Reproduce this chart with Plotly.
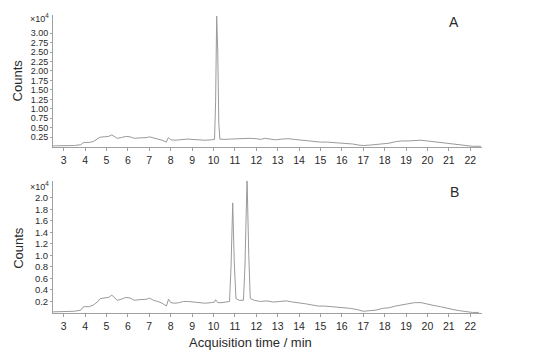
import plotly.graph_objects as go

# Trace A (counts x10^4)
t_a = [2.5, 3.0, 3.5, 3.8, 3.9, 4.0, 4.2, 4.4, 4.6, 4.7, 4.9, 5.1, 5.25, 5.4, 5.5, 5.7, 5.9, 6.1, 6.3, 6.5,
       6.7, 6.9, 7.0, 7.2, 7.4, 7.6, 7.8, 7.85, 7.9, 8.0, 8.2, 8.4, 8.6, 8.8, 9.0, 9.3, 9.6, 9.9, 10.05, 10.1,
       10.15, 10.2, 10.25, 10.3, 10.5, 10.8, 11.1, 11.4, 11.7, 12.0, 12.2, 12.4, 12.6, 12.9, 13.2, 13.5, 13.8,
       14.1, 14.4, 14.7, 15.0, 15.3, 15.6, 15.9, 16.2, 16.5, 16.8, 17.0, 17.3, 17.6, 17.9, 18.2, 18.5, 18.8,
       19.1, 19.4, 19.7, 20.0, 20.3, 20.6, 20.9, 21.2, 21.5, 21.8, 22.1, 22.5]
counts_a = [0.02, 0.02, 0.03, 0.05, 0.10, 0.11, 0.11, 0.14, 0.20, 0.25, 0.26, 0.27, 0.31, 0.25, 0.22, 0.24,
            0.27, 0.26, 0.22, 0.23, 0.23, 0.24, 0.26, 0.22, 0.20, 0.17, 0.12, 0.20, 0.24, 0.18, 0.17, 0.18,
            0.20, 0.20, 0.19, 0.18, 0.17, 0.18, 0.19, 1.20, 3.45, 2.50, 0.60, 0.20, 0.19, 0.20, 0.21, 0.22,
            0.22, 0.21, 0.19, 0.22, 0.21, 0.18, 0.20, 0.21, 0.19, 0.17, 0.16, 0.13, 0.12, 0.12, 0.11, 0.09,
            0.09, 0.07, 0.04, 0.03, 0.04, 0.05, 0.08, 0.09, 0.13, 0.15, 0.15, 0.17, 0.17, 0.15, 0.13, 0.11,
            0.08, 0.06, 0.04, 0.02, 0.01, 0.01]

# Trace B (counts x10^4)
t_b = [2.5, 3.0, 3.5, 3.8, 3.9, 4.0, 4.2, 4.4, 4.6, 4.7, 4.9, 5.1, 5.25, 5.4, 5.5, 5.7, 5.9, 6.1, 6.3, 6.5,
       6.7, 6.9, 7.0, 7.2, 7.4, 7.6, 7.8, 7.85, 7.9, 8.0, 8.2, 8.4, 8.6, 8.8, 9.0, 9.3, 9.6, 9.9, 10.05, 10.1,
       10.2, 10.4, 10.6, 10.75, 10.82, 10.9, 10.97, 11.05, 11.2, 11.4, 11.47, 11.57, 11.65, 11.72, 11.9,
       12.2, 12.5, 12.8, 13.1, 13.4, 13.7, 14.0, 14.3, 14.6, 14.9, 15.2, 15.5, 15.8, 16.1, 16.4, 16.7, 17.0,
       17.3, 17.6, 17.9, 18.2, 18.5, 18.8, 19.1, 19.4, 19.7, 20.0, 20.3, 20.6, 20.9, 21.2, 21.5, 21.8, 22.1,
       22.4]
counts_b = [0.02, 0.02, 0.03, 0.05, 0.10, 0.11, 0.11, 0.14, 0.20, 0.25, 0.26, 0.27, 0.31, 0.25, 0.22, 0.24,
            0.27, 0.26, 0.22, 0.23, 0.23, 0.24, 0.26, 0.22, 0.20, 0.17, 0.12, 0.20, 0.24, 0.18, 0.17, 0.18,
            0.20, 0.20, 0.19, 0.18, 0.17, 0.18, 0.19, 0.23, 0.18, 0.18, 0.19, 0.20, 0.80, 1.91, 0.90, 0.25,
            0.22, 0.22, 0.80, 2.33, 1.00, 0.25, 0.22, 0.20, 0.21, 0.19, 0.20, 0.21, 0.19, 0.18, 0.16, 0.14,
            0.12, 0.12, 0.11, 0.10, 0.10, 0.08, 0.06, 0.03, 0.04, 0.05, 0.08, 0.09, 0.12, 0.14, 0.16, 0.18,
            0.18, 0.15, 0.13, 0.11, 0.08, 0.06, 0.04, 0.02, 0.01, 0.01]

x_ticks = list(range(3, 23))
y_ticks_a = [0.25 * i for i in range(1, 13)]
y_ticks_b = [0.2 * i for i in range(1, 11)]

line_col = "#9a9a9a"
axis_col = "#a0a0a0"
text_col = "#2a2a2a"
font_fam = "Liberation Sans, Arial, sans-serif"

fig = go.Figure()
fig.add_trace(go.Scatter(x=t_a, y=counts_a, mode="lines", line=dict(color=line_col, width=1),
                         xaxis="x", yaxis="y", showlegend=False))
fig.add_trace(go.Scatter(x=t_b, y=counts_b, mode="lines", line=dict(color=line_col, width=1),
                         xaxis="x2", yaxis="y2", showlegend=False))

xcommon = dict(range=[2.5, 22.55], tickmode="array", tickvals=x_ticks, ticktext=[str(v) for v in x_ticks],
               showgrid=False, zeroline=False, showline=True, linecolor=axis_col, linewidth=1,
               ticks="outside", ticklen=3, tickcolor=axis_col, tickfont=dict(size=10.5, color=text_col),
               automargin=False)
ycommon = dict(showgrid=False, zeroline=False, showline=True, linecolor=axis_col, linewidth=1,
               ticks="outside", ticklen=2, tickcolor=axis_col, automargin=False)

fig.update_layout(
    width=541, height=354,
    margin=dict(l=53, r=59, t=15, b=41, autoexpand=False),
    paper_bgcolor="white", plot_bgcolor="white",
    font=dict(family=font_fam),
    xaxis=dict(xcommon, domain=[0, 1], anchor="y"),
    yaxis=dict(ycommon, domain=[0.557, 1.0], range=[-0.01, 3.48], tickvals=y_ticks_a,
               ticktext=[f"{v:.2f}" for v in y_ticks_a], anchor="x",
               tickfont=dict(size=9, color=text_col)),
    xaxis2=dict(xcommon, domain=[0, 1], anchor="y2"),
    yaxis2=dict(ycommon, domain=[0.0, 0.443], range=[0, 2.29], tickvals=y_ticks_b,
                ticktext=[f"{v:.1f}" for v in y_ticks_b], anchor="x2",
                tickfont=dict(size=9.5, color=text_col)),
    annotations=[
        dict(text="×10<sup>4</sup>", xref="paper", yref="paper", x=-0.005, y=0.99, xanchor="right",
             yanchor="middle", showarrow=False, font=dict(size=9, color=text_col)),
        dict(text="×10<sup>4</sup>", xref="paper", yref="paper", x=-0.005, y=0.427, xanchor="right",
             yanchor="middle", showarrow=False, font=dict(size=9, color=text_col)),
        dict(text="A", xref="paper", yref="paper", x=0.935, y=0.976, xanchor="center", yanchor="middle",
             showarrow=False, font=dict(size=14, color=text_col)),
        dict(text="B", xref="paper", yref="paper", x=0.935, y=0.406, xanchor="center", yanchor="middle",
             showarrow=False, font=dict(size=14, color=text_col)),
        dict(text="Counts", xref="paper", yref="paper", x=-0.082, y=0.78, xanchor="center", yanchor="middle",
             textangle=-90, showarrow=False, font=dict(size=13, color=text_col)),
        dict(text="Counts", xref="paper", yref="paper", x=-0.082, y=0.218, xanchor="center", yanchor="middle",
             textangle=-90, showarrow=False, font=dict(size=13, color=text_col)),
        dict(text="Acquisition time / min", xref="paper", yref="paper", x=0.46, y=-0.1, xanchor="center",
             yanchor="middle", showarrow=False, font=dict(size=13, color=text_col)),
    ],
)

fig.write_html("out.html", config={"displayModeBar": False},
               post_script="document.body.style.margin='0';document.body.style.overflow='hidden';")
